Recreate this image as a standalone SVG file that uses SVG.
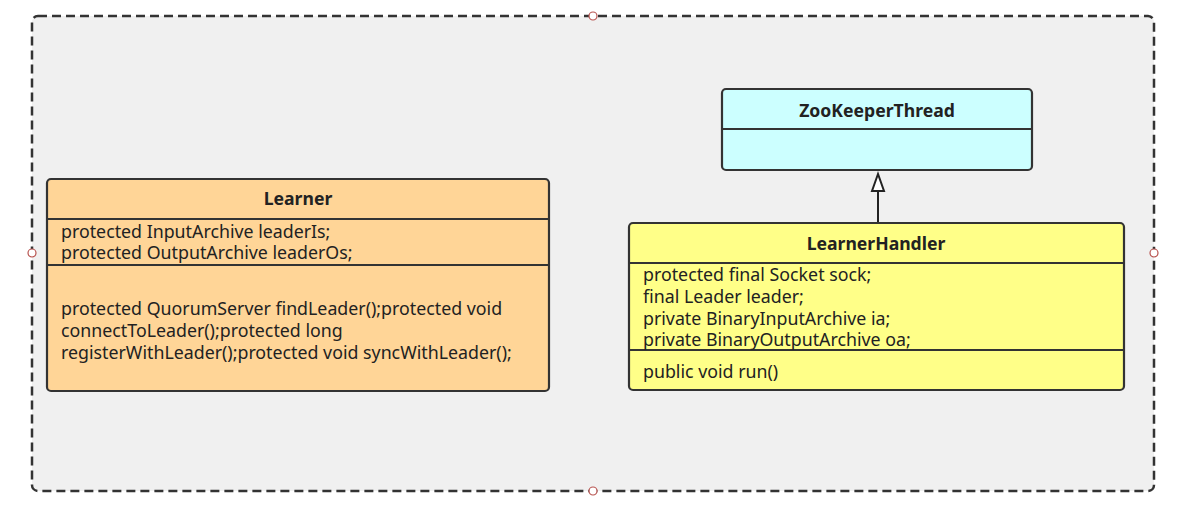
<svg xmlns="http://www.w3.org/2000/svg" width="1182" height="506" viewBox="0 0 1182 506">
<style>
.box{stroke:#333;stroke-width:2.2}
.div{stroke:#333;stroke-width:2}
.t{font-family:"Noto Sans","Liberation Sans",sans-serif;font-size:17.8px;fill:#222}
.h{font-family:"Noto Sans","Liberation Sans",sans-serif;font-size:17.6px;font-weight:bold;fill:#222;text-anchor:middle}
.handle{fill:#fff;stroke:#b85450;stroke-width:1.2}
</style>
<rect width="1182" height="506" fill="#fff"/>
<g id="container">
<rect x="32" y="16" width="1122" height="475" rx="6" fill="#f0f0f0" stroke="#333" stroke-width="2.5" stroke-dasharray="9 5"/>
</g>
<g id="learner">
<rect class="box" x="47" y="179" width="502" height="212" rx="4" fill="#ffd597"/>
<line class="div" x1="47" y1="219" x2="549" y2="219"/>
<line class="div" x1="47" y1="265" x2="549" y2="265"/>
<text class="h" x="298" y="205">Learner</text>
<text class="t" x="61" y="238">protected InputArchive leaderIs;</text>
<text class="t" x="61" y="259">protected OutputArchive leaderOs;</text>
<text class="t" x="61" y="315">protected QuorumServer findLeader();protected void</text>
<text class="t" x="61" y="337">connectToLeader();protected long</text>
<text class="t" x="61" y="359">registerWithLeader();protected void syncWithLeader();</text>
</g>
<g id="zookeeperthread">
<rect class="box" x="722" y="89" width="310" height="81" rx="4" fill="#ccffff"/>
<line class="div" x1="722" y1="129" x2="1032" y2="129"/>
<text class="h" x="877" y="117">ZooKeeperThread</text>
</g>
<g id="learnerhandler">
<rect class="box" x="629" y="223" width="495" height="167" rx="4" fill="#ffff88"/>
<line class="div" x1="629" y1="263" x2="1124" y2="263"/>
<line class="div" x1="629" y1="350" x2="1124" y2="350"/>
<text class="h" x="876" y="250">LearnerHandler</text>
<text class="t" x="643" y="281">protected final Socket sock;</text>
<text class="t" x="643" y="303">final Leader leader;</text>
<text class="t" x="643" y="325">private BinaryInputArchive ia;</text>
<text class="t" x="643" y="346">private BinaryOutputArchive oa;</text>
<text class="t" x="643" y="378">public void run()</text>
</g>
<g id="connectors">
<line x1="878" y1="222" x2="878" y2="191" stroke="#222" stroke-width="2"/>
<polygon points="878,174 872,191 884,191" fill="#fff" stroke="#222" stroke-width="2" stroke-linejoin="miter"/>
</g>
<g id="handles">
<circle class="handle" cx="593" cy="16" r="4"/>
<circle class="handle" cx="32" cy="253" r="4"/>
<circle class="handle" cx="1154" cy="253" r="4"/>
<circle class="handle" cx="593" cy="491" r="4"/>
</g>
</svg>
